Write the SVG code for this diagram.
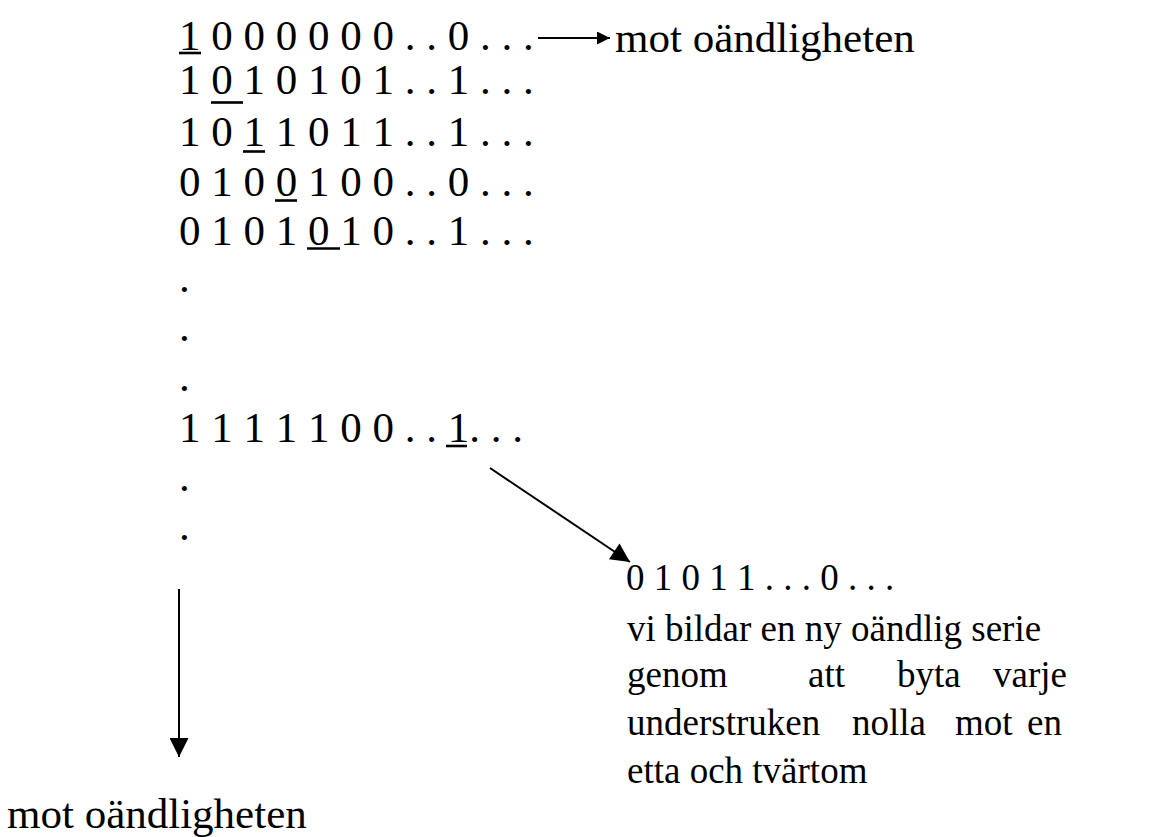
<svg xmlns="http://www.w3.org/2000/svg" width="1153" height="837" viewBox="0 0 1153 837">
  <style>
    .d { font-family: "Liberation Serif", "Times New Roman", serif; font-size: 43px; fill: #000; }
    .p { font-family: "Liberation Serif", "Times New Roman", serif; font-size: 37px; fill: #000; }
    .u { stroke: #000; stroke-width: 2.6; }
    .c { stroke: #000; stroke-width: 2; fill: none; }
  </style>
  <defs>
    <marker id="ahS" viewBox="0 0 10 10" refX="10" refY="5" markerUnits="userSpaceOnUse" markerWidth="19" markerHeight="13" orient="auto">
      <path d="M0,0 L10,5 L0,10 z" fill="#000"/>
    </marker>
    <marker id="ahL" viewBox="0 0 10 10" refX="10" refY="5" markerUnits="userSpaceOnUse" markerWidth="21" markerHeight="19" orient="auto">
      <path d="M0,0 L10,5 L0,10 z" fill="#000"/>
    </marker>
  </defs>
  <rect width="1153" height="837" fill="#fff"/>

  <g id="matrix">
    <text class="d" x="179" y="50">1 0 0 0 0 0 0 . . 0 . . .</text>
    <text class="d" x="179" y="94">1 0 1 0 1 0 1 . . 1 . . .</text>
    <text class="d" x="179" y="146">1 0 1 1 0 1 1 . . 1 . . .</text>
    <text class="d" x="179" y="196">0 1 0 0 1 0 0 . . 0 . . .</text>
    <text class="d" x="179" y="245">0 1 0 1 0 1 0 . . 1 . . .</text>
    <text class="d" x="179" y="292">.</text>
    <text class="d" x="179" y="341">.</text>
    <text class="d" x="179" y="391">.</text>
    <text class="d" x="179" y="442">1 1 1 1 1 0 0 . . 1. . .</text>
    <text class="d" x="179" y="491">.</text>
    <text class="d" x="179" y="540">.</text>
    <line class="u" x1="179" y1="53" x2="201" y2="53"/>
    <line class="u" x1="211" y1="102.5" x2="243" y2="102.5"/>
    <line class="u" x1="243" y1="151.5" x2="265" y2="151.5"/>
    <line class="u" x1="275" y1="200.5" x2="297" y2="200.5"/>
    <line class="u" x1="307" y1="248.5" x2="340" y2="248.5"/>
    <line class="u" x1="446" y1="446" x2="467" y2="446"/>
  </g>

  <g id="label-right">
    <text class="d" x="615" y="52">mot oändligheten</text>
  </g>

  <g id="label-down">
    <text class="d" x="7" y="828">mot oändligheten</text>
  </g>

  <g id="new-series">
    <text class="p" x="626" y="590">0 1 0 1 1 . . . 0 . . .</text>
    <text class="p" x="627" y="641">vi bildar en ny oändlig serie</text>
    <text class="p" y="687"><tspan x="627">genom</tspan><tspan x="808">att</tspan><tspan x="897">byta</tspan><tspan x="993">varje</tspan></text>
    <text class="p" y="735"><tspan x="627">understruken</tspan><tspan x="852">nolla</tspan><tspan x="955">mot</tspan><tspan x="1027">en</tspan></text>
    <text class="p" x="627" y="783">etta och tvärtom</text>
  </g>

  <g id="connectors">
    <line class="c" x1="538" y1="38" x2="610" y2="38" marker-end="url(#ahS)"/>
    <line class="c" x1="490" y1="468" x2="630" y2="562" marker-end="url(#ahL)"/>
    <line class="c" x1="179" y1="589" x2="179" y2="757" marker-end="url(#ahL)"/>
  </g>
</svg>
